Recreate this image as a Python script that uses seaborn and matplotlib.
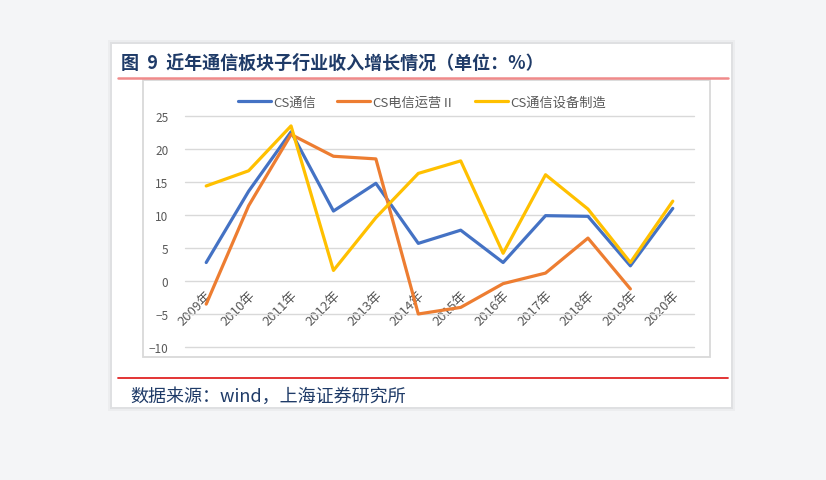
import matplotlib
matplotlib.use("Agg")
import matplotlib.pyplot as plt
from matplotlib.patches import Rectangle
from matplotlib.lines import Line2D
import numpy as np
import pandas as pd
import seaborn as sns

years = ["2009年", "2010年", "2011年", "2012年", "2013年", "2014年",
         "2015年", "2016年", "2017年", "2018年", "2019年", "2020年"]
cs_tongxin = [2.8, 13.6, 22.6, 10.6, 14.8, 5.7, 7.7, 2.8, 9.9, 9.8, 2.3, 11.0]
cs_yunying = [-3.5, 11.4, 22.2, 18.9, 18.5, -5.0, -4.0, -0.4, 1.2, 6.5, -1.2, np.nan]
cs_shebei = [14.4, 16.7, 23.5, 1.6, 9.6, 16.3, 18.2, 4.2, 16.1, 10.9, 2.8, 12.1]
series_names = ["CS通信", "CS电信运营Ⅱ", "CS通信设备制造"]
colours = ["#4472C4", "#ED7D31", "#FFC000"]

title = "图  9  近年通信板块子行业收入增长情况（单位：%）"
source = "数据来源：wind，上海证券研究所"

sns.set_style("white")
plt.rcParams['font.family'] = ['Noto Sans CJK SC', 'DejaVu Sans']

W, H = 826, 481
fig = plt.figure(figsize=(W / 100, H / 100), dpi=100)
fig.patch.set_facecolor("#f4f5f7")


def fx(px):
    return px / W


def fy(py):
    return 1 - py / H


# card with faint shadow
for grow, alpha in [(4, 0.03), (2, 0.05)]:
    fig.patches.append(Rectangle((fx(112 - grow), fy(408 + grow)), fx(619 + 2 * grow), (363 + 2 * grow) / H,
                                 transform=fig.transFigure, facecolor="#000000", alpha=alpha,
                                 edgecolor="none", zorder=0))
fig.patches.append(Rectangle((fx(112), fy(408)), fx(619), 363 / H, transform=fig.transFigure,
                             facecolor="white", edgecolor="none", zorder=0))
# chart frame
fig.patches.append(Rectangle((fx(143), fy(358)), fx(567), 277 / H, transform=fig.transFigure,
                             facecolor="white", edgecolor="#d9d9d9", linewidth=1.3, zorder=1))
# red rules
fig.lines.append(Line2D([fx(118), fx(728)], [fy(79), fy(79)], transform=fig.transFigure,
                        color="#f08a8a", linewidth=1.8, zorder=2))
fig.lines.append(Line2D([fx(118), fx(728)], [fy(379), fy(379)], transform=fig.transFigure,
                        color="#e02424", linewidth=1.3, zorder=2))

fig.text(fx(121), fy(63), title, fontsize=13, fontweight="bold", color="#1f3b68",
         ha="left", va="center")
fig.text(fx(130), fy(397), source, fontsize=13, style="italic", color="#1f3b68",
         ha="left", va="center")

ax = fig.add_axes([fx(185), fy(348), fx(509), 231 / H])
ax.set_facecolor("none")
ax.set_zorder(3)

x = np.arange(len(years))
df = pd.DataFrame({
    "x": np.tile(x, 3),
    "value": cs_tongxin + cs_yunying + cs_shebei,
    "series": np.repeat(series_names, len(years)),
})
sns.lineplot(data=df, x="x", y="value", hue="series", hue_order=series_names,
             palette=colours, linewidth=2.3, estimator=None, sort=False, ax=ax)

ax.set_xlim(-0.5, len(years) - 0.5)
ax.set_ylim(-10, 25)
ax.set_yticks(np.arange(-10, 26, 5))
ax.yaxis.grid(True, color="#d9d9d9", linewidth=1)
for gl in ax.get_ygridlines():
    gl.set_clip_on(False)
ax.xaxis.grid(False)
ax.set_axisbelow(True)
for s in ["top", "right", "left"]:
    ax.spines[s].set_visible(False)
ax.spines["bottom"].set_position(("data", 0))
ax.spines["bottom"].set_visible(False)
ax.set_xticks(x)
ax.set_xticklabels(years, rotation=45, ha="right", va="top", rotation_mode="anchor")
ax.tick_params(axis="x", length=0, pad=5, labelsize=9.5, labelcolor="#595959")
ax.tick_params(axis="y", length=0, pad=12, labelsize=8.5, labelcolor="#595959")
ax.set_xlabel("")
ax.set_ylabel("")

handles, labels = ax.get_legend_handles_labels()
ax.legend(handles, labels, loc="center", bbox_to_anchor=(fx(422), fy(103)),
          bbox_transform=fig.transFigure, ncol=3, frameon=False, fontsize=9.5,
          handlelength=2.5, handletextpad=0.15, columnspacing=1.6,
          labelcolor="#595959")

fig.savefig("out.png", dpi=100, facecolor=fig.get_facecolor())
